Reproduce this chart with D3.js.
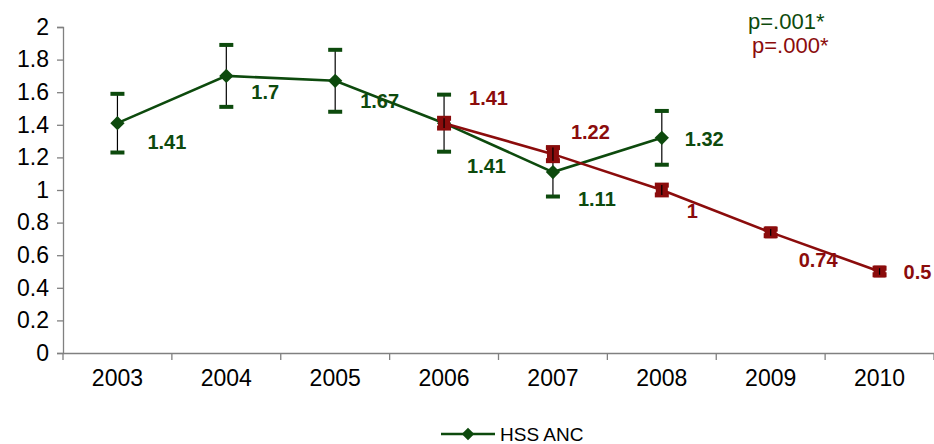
<!DOCTYPE html>
<html><head><meta charset="utf-8">
<script src="https://cdn.jsdelivr.net/npm/d3@7/dist/d3.min.js"></script>
<style>body{margin:0;background:#fff}svg{display:block;font-family:Arial,"Liberation Sans",sans-serif}</style>
</head><body><svg id="c" width="934" height="444"></svg>
<script>
const years = ["2003","2004","2005","2006","2007","2008","2009","2010"];
const yTicks = [0,0.2,0.4,0.6,0.8,1,1.2,1.4,1.6,1.8,2];
// HSS ANC series (green)
const greenYears = ["2003","2004","2005","2006","2007","2008"];
const greenValues = [1.41,1.7,1.67,1.41,1.11,1.32];
const greenErr = [0.18,0.19,0.19,0.175,0.15,0.165];
// second series (red)
const redYears = ["2006","2007","2008","2009","2010"];
const redValues = [1.41,1.22,1,0.74,0.5];
const redErr = [0.03,0.04,0.03,0.02,0.02];
const legendLabel = "HSS ANC";
const pGreen = "p=.001*", pRed = "p=.000*";

// layout (label offsets in px relative to the point)
const greenLabelOff = [[30,19],[25,16],[25,20],[23,43],[25,27],[23,1]];
const redLabelOff = [[25,-25],[18,-22],[25,21],[28,28],[24,0]];

const GREEN = "#0d4a0d", RED = "#8b0c0c";
const FONT = "Arial, 'Liberation Sans', sans-serif";
const svg = d3.select("#c");
const m = {l:63, r:934, t:27, b:353};
const x = d3.scaleBand().domain(years).range([m.l, m.r]);
const y = d3.scaleLinear().domain([0,2]).range([m.b, m.t]);
const cx = d => x(d) + x.bandwidth()/2;

// axes
const yAx = svg.append("g").attr("transform",`translate(${m.l},0)`)
  .call(d3.axisLeft(y).tickValues(yTicks).tickSize(6).tickPadding(8).tickFormat(d3.format("")));
const xAx = svg.append("g").attr("transform",`translate(0,${m.b})`)
  .call(d3.axisBottom(x).tickSize(0).tickPadding(17));
[yAx,xAx].forEach(g=>{
  g.select(".domain").attr("stroke","#808080").attr("stroke-width",1.3);
  g.selectAll(".tick line").attr("stroke","#808080").attr("stroke-width",1.3);
  g.selectAll("text").attr("font-size",23).attr("fill","#000").attr("font-family",FONT);
});
// x boundary ticks
svg.append("g").selectAll("line").data(years.concat(["end"])).join("line")
  .attr("x1",(d,i)=>m.l+i*x.bandwidth()).attr("x2",(d,i)=>m.l+i*x.bandwidth())
  .attr("y1",m.b).attr("y2",m.b+7).attr("stroke","#808080").attr("stroke-width",1.3);

function series(yrs, vals, errs, offs, color, marker){
  const g = svg.append("g");
  const pts = yrs.map((yr,i)=>({x:cx(yr), v:vals[i], e:errs[i], o:offs[i]}));
  g.append("path").datum(pts)
    .attr("d", d3.line().x(d=>d.x).y(d=>y(d.v)))
    .attr("fill","none").attr("stroke",color).attr("stroke-width",2.6);
  const eb = g.selectAll(".eb").data(pts).join("g");
  eb.append("line").attr("x1",d=>d.x).attr("x2",d=>d.x)
    .attr("y1",d=>y(d.v+d.e)).attr("y2",d=>y(d.v-d.e)).attr("stroke","#000").attr("stroke-width",1.2);
  [1,-1].forEach(s=>{
    eb.append("line").attr("x1",d=>d.x-7).attr("x2",d=>d.x+7)
      .attr("y1",d=>y(d.v+s*d.e)).attr("y2",d=>y(d.v+s*d.e))
      .attr("stroke",color).attr("stroke-width",marker==="square"?5:4);
  });
  if(marker==="diamond"){
    g.selectAll(".mk").data(pts).join("path")
      .attr("d", d3.symbol().type(d3.symbolDiamond2).size(130))
      .attr("transform",d=>`translate(${d.x},${y(d.v)})`).attr("fill",color);
  } else {
    g.selectAll(".mk").data(pts).join("rect")
      .attr("x",d=>d.x-6).attr("y",d=>y(d.v)-6).attr("width",12).attr("height",12).attr("fill",color);
    g.selectAll(".mkl").data(pts).join("line").attr("x1",d=>d.x).attr("x2",d=>d.x)
      .attr("y1",d=>y(d.v+d.e)).attr("y2",d=>y(d.v-d.e)).attr("stroke","#000").attr("stroke-width",1.2);
  }
  g.selectAll(".lb").data(pts).join("text")
    .attr("x",d=>d.x+d.o[0]).attr("y",d=>y(d.v)+d.o[1])
    .attr("dominant-baseline","central")
    .attr("font-size",20).attr("font-weight","bold").attr("fill",color)
    .text(d=>d.v);
}
series(greenYears, greenValues, greenErr, greenLabelOff, GREEN, "diamond");
series(redYears, redValues, redErr, redLabelOff, RED, "square");

// p-values
svg.append("text").attr("x",748).attr("y",21).attr("dominant-baseline","central").attr("font-size",22).attr("fill",GREEN).text(pGreen);
svg.append("text").attr("x",752).attr("y",45).attr("dominant-baseline","central").attr("font-size",22).attr("fill",RED).text(pRed);

// legend
const lg = svg.append("g");
lg.append("line").attr("x1",441).attr("x2",495).attr("y1",434).attr("y2",434).attr("stroke",GREEN).attr("stroke-width",2.6);
lg.append("path").attr("d",d3.symbol().type(d3.symbolDiamond2).size(100)).attr("transform","translate(468,434)").attr("fill",GREEN);
lg.append("text").attr("x",500).attr("y",434).attr("dominant-baseline","central").attr("font-size",19).attr("fill","#000").text(legendLabel);
</script></body></html>
